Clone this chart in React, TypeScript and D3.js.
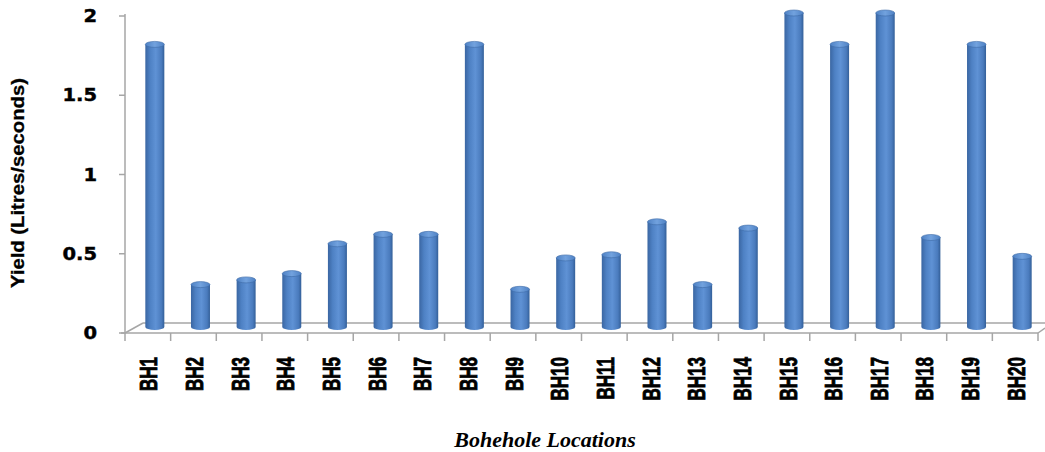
import React from "react";
import * as d3 from "d3";

const categories = ["BH1","BH2","BH3","BH4","BH5","BH6","BH7","BH8","BH9","BH10","BH11","BH12","BH13","BH14","BH15","BH16","BH17","BH18","BH19","BH20"];
const yieldValues = [1.8,0.27,0.3,0.34,0.53,0.59,0.59,1.8,0.24,0.44,0.46,0.67,0.27,0.63,2.0,1.8,2.0,0.57,1.8,0.45];
const yTicks = [0, 0.5, 1, 1.5, 2];
const yTickLabels = ["0", "0.5", "1", "1.5", "2"];
const yTitle = "Yield (Litres/seconds)";
const xTitle = "Bohehole Locations";

const W = 1045, H = 452;
const left = 125, right = 1038, top = 16, bottom = 333;
const depthX = 18, depthY = 10;
const barShift = 7;

export default function App() {
  const x = d3.scaleBand<string>().domain(categories).range([left, right]).paddingInner(0).paddingOuter(0);
  const y = d3.scaleLinear().domain([0, 2]).range([bottom, top]);
  const yBar = d3.scaleLinear().domain([0, 2]).range([327, 13]);
  const bw = 19, rx = bw / 2, ry = 3;
  const axisColor = "#a6a6a6";
  const bounds = [...categories.map((c) => x(c) as number), right];

  return (
    <svg width={W} height={H} style={{ position: "absolute", left: 0, top: 0, background: "#fff" }}>
      <defs>
        <linearGradient id="cyl" x1="0" x2="1" y1="0" y2="0">
          <stop offset="0" stopColor="#3a66a2" />
          <stop offset="0.25" stopColor="#4e81c4" />
          <stop offset="0.55" stopColor="#5f92d5" />
          <stop offset="0.85" stopColor="#4a7bbd" />
          <stop offset="1" stopColor="#335f98" />
        </linearGradient>
        <linearGradient id="capg" x1="0" x2="1" y1="0" y2="0">
          <stop offset="0" stopColor="#4e81c4" />
          <stop offset="0.5" stopColor="#72a2de" />
          <stop offset="1" stopColor="#4e81c4" />
        </linearGradient>
      </defs>
      {/* floor */}
      <g fill="none" stroke={axisColor} strokeWidth={1.5}>
        <line x1={left} y1={bottom} x2={left + depthX} y2={bottom - depthY} />
        <line x1={left + depthX} y1={bottom - depthY} x2={W} y2={bottom - depthY} />
        <line x1={right} y1={bottom} x2={right + 7} y2={bottom - 5} />
        <line x1={left - 4} y1={bottom} x2={right} y2={bottom} />
        <line x1={left} y1={top - 2} x2={left} y2={bottom} />
        {yTicks.map((t) => (
          <line key={t} x1={left - 6} x2={left} y1={y(t)} y2={y(t)} />
        ))}
        {bounds.map((b, i) => (
          <line key={i} x1={b} x2={b} y1={bottom} y2={bottom + 8} />
        ))}
      </g>
      {/* bars */}
      {categories.map((c, i) => {
        const cx = (x(c) as number) + x.bandwidth() / 2 + barShift;
        const yt = yBar(yieldValues[i]);
        const yb = yBar(0);
        return (
          <g key={c}>
            <path
              d={`M${cx - rx},${yt} L${cx - rx},${yb} A${rx},${ry} 0 0 0 ${cx + rx},${yb} L${cx + rx},${yt} Z`}
              fill="url(#cyl)"
            />
            <ellipse cx={cx} cy={yt} rx={rx} ry={ry} fill="url(#capg)" stroke="#3d6aa6" strokeWidth={0.6} />
          </g>
        );
      })}
      {/* y tick labels */}
      {yTicks.map((t, i) => (
        <text
          key={t}
          transform={`translate(97,${y(t)}) scale(1.15,1)`}
          textAnchor="end"
          dy="0.36em"
          fontFamily="DejaVu Sans"
          fontWeight="bold"
          fontSize={17}
          fill="#000"
          stroke="#000"
          strokeWidth={0.4}
        >
          {yTickLabels[i]}
        </text>
      ))}
      {/* x labels */}
      {categories.map((c) => (
        <text
          key={c}
          transform={`translate(${(x(c) as number) + x.bandwidth() / 2 + 1},357) scale(1.4,1) rotate(-90)`}
          textAnchor="end"
          dy="0.36em"
          fontFamily="Liberation Sans"
          fontWeight="bold"
          fontSize={17}
          fill="#000"
          stroke="#000"
          strokeWidth={0.6}
        >
          {c}
        </text>
      ))}
      {/* y title */}
      <text
        transform="translate(18,183) rotate(-90)"
        textAnchor="middle"
        dy="0.35em"
        fontFamily="Liberation Sans"
        fontWeight="bold"
        fontSize={18}
        textLength={210}
        lengthAdjust="spacingAndGlyphs"
        fill="#000"
        stroke="#000"
        strokeWidth={0.3}
      >
        {yTitle}
      </text>
      {/* x title */}
      <text
        x={545}
        y={447}
        textAnchor="middle"
        fontFamily="Liberation Serif"
        fontStyle="italic"
        fontWeight="bold"
        fontSize={22}
        fill="#000"
      >
        {xTitle}
      </text>
    </svg>
  );
}
